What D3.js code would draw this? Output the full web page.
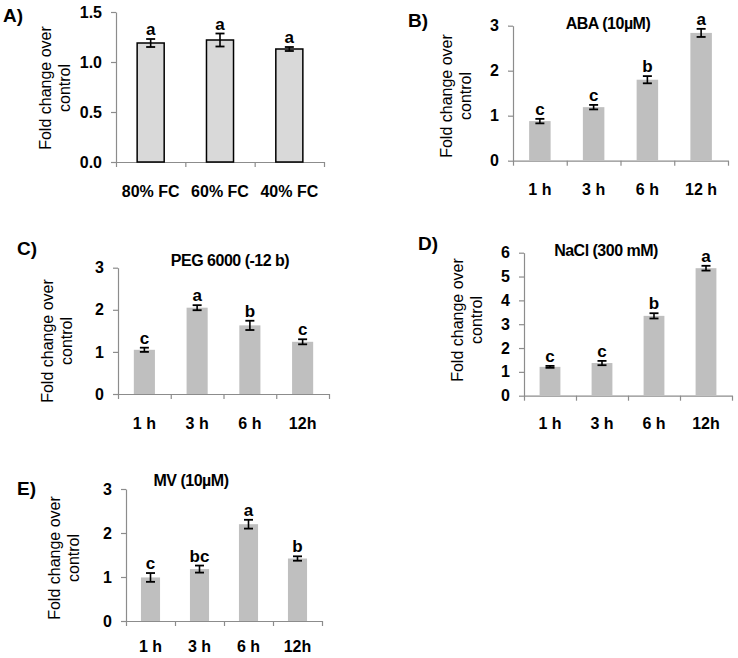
<!DOCTYPE html>
<html>
<head>
<meta charset="utf-8">
<script src="https://cdn.jsdelivr.net/npm/d3@7"></script>
<style>
  body { margin: 0; background: #fff; }
  svg text { font-family: "Liberation Sans", Arial, sans-serif; }
</style>
</head>
<body>
<svg id="chart" width="738" height="658"></svg>
<script>
// Data
const fcCats = ['80% FC', '60% FC', '40% FC'];
const fcVals = [1.19, 1.22, 1.13];
const fcErr = [0.04, 0.065, 0.02];
const fcLetters = ['a', 'a', 'a'];

const timeCats = ['1 h', '3 h', '6 h', '12 h'];
const timeCats2 = ['1 h', '3 h', '6 h', '12h'];

const abaVals = [0.88, 1.19, 1.80, 2.84];
const abaErr = [0.05, 0.05, 0.08, 0.09];
const abaLetters = ['c', 'c', 'b', 'a'];

const pegVals = [1.05, 2.05, 1.63, 1.24];
const pegErr = [0.05, 0.06, 0.11, 0.06];
const pegLetters = ['c', 'a', 'b', 'c'];

const naclVals = [1.21, 1.37, 3.35, 5.35];
const naclErr = [0.04, 0.09, 0.11, 0.1];
const naclLetters = ['c', 'c', 'b', 'a'];

const mvVals = [0.99, 1.18, 2.20, 1.42];
const mvErr = [0.1, 0.08, 0.1, 0.05];
const mvLetters = ['c', 'bc', 'a', 'b'];

const svg = d3.select('#chart');

// Draw one bar panel
function drawPanel(p) {
    const g = svg.append('g');

    const y = d3.scaleLinear().domain([0, p.max]).range([p.y0, p.yTop]);
    const x = d3.scaleBand().domain(p.cats).range([p.x0, p.x1])
        .paddingInner(p.pad).paddingOuter(p.pad / 2);
    const xl = d3.scaleLinear().domain([0, p.cats.length]).range([p.x0, p.x1]);

    // y axis
    const ya = g.append('g')
        .attr('transform', `translate(${p.x0},0)`)
        .call(d3.axisLeft(y).tickValues(p.ticks).tickFormat(d3.format(p.fmt))
            .tickSize(5).tickSizeOuter(0).tickPadding(9));
    // x axis (ticks at category boundaries)
    const xa = g.append('g')
        .attr('transform', `translate(0,${p.y0})`)
        .call(d3.axisBottom(xl).tickValues(d3.range(p.cats.length + 1))
            .tickFormat('').tickSize(5).tickSizeOuter(0));
    [ya, xa].forEach(a => {
        a.selectAll('path, line').attr('stroke', '#8c8c8c').attr('stroke-width', 1.2);
        a.selectAll('text').attr('font-size', 16).attr('font-weight', 'bold')
            .attr('fill', '#000').attr('font-family', '"Liberation Sans", Arial, sans-serif');
    });

    // bars
    g.selectAll('rect.bar').data(p.vals).enter().append('rect')
        .attr('x', (d, i) => x(p.cats[i]))
        .attr('y', d => y(d))
        .attr('width', x.bandwidth())
        .attr('height', d => y(0) - y(d))
        .attr('fill', p.fill)
        .attr('stroke', p.outline ? '#000' : 'none')
        .attr('stroke-width', 1.5);

    // error bars
    const cx = i => x(p.cats[i]) + x.bandwidth() / 2;
    p.vals.forEach((v, i) => {
        const e = p.err[i];
        g.append('line').attr('x1', cx(i)).attr('x2', cx(i))
            .attr('y1', y(v - e)).attr('y2', y(v + e))
            .attr('stroke', '#000').attr('stroke-width', 1.6);
        [v - e, v + e].forEach(t => {
            g.append('line').attr('x1', cx(i) - 4.5).attr('x2', cx(i) + 4.5)
                .attr('y1', y(t)).attr('y2', y(t))
                .attr('stroke', '#000').attr('stroke-width', 1.8);
        });
        g.append('text').attr('x', cx(i)).attr('y', y(v + e) - 4)
            .attr('text-anchor', 'middle').attr('font-size', 17)
            .attr('font-weight', 'bold').text(p.letters[i]);
    });

    // category labels
    g.selectAll('text.cat').data(p.cats).enter().append('text')
        .attr('x', d => x(d) + x.bandwidth() / 2)
        .attr('y', p.labY)
        .attr('text-anchor', 'middle').attr('font-size', 16)
        .attr('font-weight', 'bold').text(d => d);

    // y title (two lines, rotated)
    const yt = g.append('text')
        .attr('transform', `translate(${p.ytX},${p.ytY}) rotate(-90)`)
        .attr('text-anchor', 'middle').attr('font-size', 16);
    yt.append('tspan').attr('x', 0).attr('y', 0).text('Fold change over');
    yt.append('tspan').attr('x', 0).attr('y', 19).text('control');

    // panel tag
    g.append('text').attr('x', p.tagX).attr('y', p.tagY)
        .attr('font-size', 19).attr('font-weight', 'bold').text(p.tag);

    // title
    if (p.title) {
        g.append('text').attr('x', p.titleX).attr('y', p.titleY)
            .attr('text-anchor', 'middle').attr('font-size', 16)
            .attr('font-weight', 'bold').attr('letter-spacing', -0.5)
            .text(p.title);
    }
}

drawPanel({
    cats: fcCats, vals: fcVals, err: fcErr, letters: fcLetters,
    max: 1.5, ticks: [0, 0.5, 1, 1.5], fmt: '.1f',
    x0: 116, x1: 324, y0: 162, yTop: 12, pad: 0.61,
    fill: '#d9d9d9', outline: true, labY: 197,
    ytX: 51, ytY: 88, tag: 'A)', tagX: 3, tagY: 22
});

drawPanel({
    cats: timeCats, vals: abaVals, err: abaErr, letters: abaLetters,
    max: 3, ticks: [0, 1, 2, 3], fmt: 'd',
    x0: 513, x1: 728, y0: 160.7, yTop: 25.7, pad: 0.6,
    fill: '#bfbfbf', outline: false, labY: 195,
    ytX: 452, ytY: 96, tag: 'B)', tagX: 408, tagY: 27,
    title: 'ABA (10µM)', titleX: 608, titleY: 29
});

drawPanel({
    cats: timeCats2, vals: pegVals, err: pegErr, letters: pegLetters,
    max: 3, ticks: [0, 1, 2, 3], fmt: 'd',
    x0: 118, x1: 329, y0: 394, yTop: 267.7, pad: 0.6,
    fill: '#bfbfbf', outline: false, labY: 429,
    ytX: 53, ytY: 341, tag: 'C)', tagX: 17, tagY: 255,
    title: 'PEG 6000 (-12 b)', titleX: 230, titleY: 266
});

drawPanel({
    cats: timeCats2, vals: naclVals, err: naclErr, letters: naclLetters,
    max: 6, ticks: [0, 1, 2, 3, 4, 5, 6], fmt: 'd',
    x0: 524, x1: 732, y0: 395.7, yTop: 252.7, pad: 0.6,
    fill: '#bfbfbf', outline: false, labY: 429,
    ytX: 463, ytY: 320, tag: 'D)', tagX: 418, tagY: 250,
    title: 'NaCl (300 mM)', titleX: 606, titleY: 256
});

drawPanel({
    cats: timeCats2, vals: mvVals, err: mvErr, letters: mvLetters,
    max: 3, ticks: [0, 1, 2, 3], fmt: 'd',
    x0: 126, x1: 322, y0: 621, yTop: 489, pad: 0.61,
    fill: '#bfbfbf', outline: false, labY: 652,
    ytX: 60, ytY: 558, tag: 'E)', tagX: 17, tagY: 495,
    title: 'MV (10µM)', titleX: 191, titleY: 486
});
</script>
</body>
</html>
